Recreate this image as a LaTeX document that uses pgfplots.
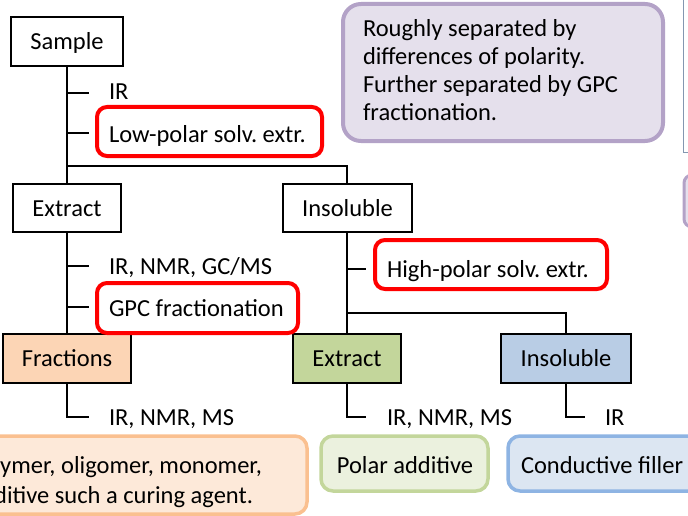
\documentclass[border=0pt]{standalone}
\usepackage{pgfplots}
\pgfplotsset{compat=1.18}
\usepackage{fontspec}
\setmainfont{Carlito}
\frenchspacing
\definecolor{peachF}{HTML}{FCD5B5}
\definecolor{greenF}{HTML}{C3D69B}
\definecolor{blueF}{HTML}{B9CDE5}
\definecolor{peachL}{HTML}{FDE9D9}
\definecolor{peachB}{HTML}{FAC090}
\definecolor{greenL}{HTML}{EBF1DE}
\definecolor{blueL}{HTML}{DCE6F2}
\definecolor{blueB}{HTML}{8EB4E3}
\definecolor{purpL}{HTML}{E5E0EC}
\definecolor{purpB}{HTML}{B3A2C7}
\definecolor{edgeB}{HTML}{8497B0}
\tikzset{lbl/.style={font=\fontsize{24.5}{28}\selectfont,inner sep=0pt,outer sep=0pt}}
\begin{document}
\frenchspacing
\begin{tikzpicture}
\clip (0,0) rectangle (688pt,516pt);
\begin{axis}[at={(0,0)},anchor=south west,scale only axis,width=688pt,height=516pt,
  xmin=0,xmax=688,ymin=0,ymax=516,y dir=reverse,axis lines=none,clip=false]
% connector lines
\addplot[black,line width=1.8pt] coordinates {(67,66) (67,166) (347,166) (347,184)};
\addplot[black,line width=1.8pt] coordinates {(67,166) (67,184)};
\addplot[black,line width=1.8pt] coordinates {(67,93) (89,93)};
\addplot[black,line width=1.8pt] coordinates {(67,133) (89,133)};
\addplot[black,line width=1.8pt] coordinates {(67,232) (67,334)};
\addplot[black,line width=1.8pt] coordinates {(67,266) (89,266)};
\addplot[black,line width=1.8pt] coordinates {(67,307) (89,307)};
\addplot[black,line width=1.8pt] coordinates {(347,232) (347,334)};
\addplot[black,line width=1.8pt] coordinates {(347,269) (366,269)};
\addplot[black,line width=1.8pt] coordinates {(347,313) (566,313) (566,334)};
\addplot[black,line width=1.8pt] coordinates {(67,383) (67,417) (89,417)};
\addplot[black,line width=1.8pt] coordinates {(347,383) (347,417) (366,417)};
\addplot[black,line width=1.8pt] coordinates {(566,383) (566,417) (585,417)};
% right edge shapes
\addplot[edgeB,line width=1pt] coordinates {(683,-5) (683,152) (700,152)};
\draw[purpB,fill=purpL,line width=3pt,rounded corners=8pt] (684,175) rectangle (720,227);
% purple note
\draw[purpB,fill=purpL,line width=4pt,rounded corners=18pt] (343,4) rectangle (663,141);
\node[lbl,anchor=base west] at (363,37) {Roughly separated by};
\node[lbl,anchor=base west] at (363,65) {differences of polarity.};
\node[lbl,anchor=base west] at (363,93) {Further separated by GPC};
\node[lbl,anchor=base west] at (363,121) {fractionation.};
% boxes
\draw[black,fill=white,line width=1.8pt] (11,17) rectangle (123,66);
\node[lbl,anchor=base] at (67,50) {Sample};
\draw[black,fill=white,line width=1.8pt] (13,184) rectangle (121,232);
\node[lbl,anchor=base] at (67,216) {Extract};
\draw[black,fill=white,line width=1.8pt] (283,184) rectangle (412,232);
\node[lbl,anchor=base] at (347.5,216) {Insoluble};
\draw[black,fill=peachF,line width=1.8pt] (3,334) rectangle (131,383);
\node[lbl,anchor=base] at (67,366) {Fractions};
\draw[black,fill=greenF,line width=1.8pt] (293,334) rectangle (401,383);
\node[lbl,anchor=base] at (347,366) {Extract};
\draw[black,fill=blueF,line width=1.8pt] (501,334) rectangle (631,383);
\node[lbl,anchor=base] at (566,366) {Insoluble};
% red boxes
\draw[red,line width=4pt,rounded corners=10pt] (97,107) rectangle (322,156);
\draw[red,line width=4pt,rounded corners=10pt] (97,283) rectangle (298,333);
\draw[red,line width=4pt,rounded corners=10pt] (375,240) rectangle (607,289);
% labels
\node[lbl,anchor=base west] at (109,100) {IR};
\node[lbl,anchor=base west] at (109,142) {Low-polar solv. extr.};
\node[lbl,anchor=base west] at (109,274) {IR, NMR, GC/MS};
\node[lbl,anchor=base west] at (109,316) {GPC fractionation};
\node[lbl,anchor=base west] at (387,277) {High-polar solv. extr.};
\node[lbl,anchor=base west] at (109,425) {IR, NMR, MS};
\node[lbl,anchor=base west] at (387,425) {IR, NMR, MS};
\node[lbl,anchor=base west] at (605,425) {IR};
% bottom boxes
\draw[peachB,fill=peachL,line width=3.5pt,rounded corners=12pt] (-60,436) rectangle (307,514);
\node[lbl,anchor=base east] at (262,473) {Polymer, oligomer, monomer,};
\node[lbl,anchor=base east] at (253,503) {additive such a curing agent.};
\draw[greenF,fill=greenL,line width=3.5pt,rounded corners=12pt] (321,436) rectangle (488,491);
\node[lbl,anchor=base] at (405,473) {Polar additive};
\draw[blueB,fill=blueL,line width=3.5pt,rounded corners=12pt] (508,436) rectangle (720,491);
\node[lbl,anchor=base west] at (521,473) {Conductive filler};
\end{axis}
\end{tikzpicture}
\end{document}
